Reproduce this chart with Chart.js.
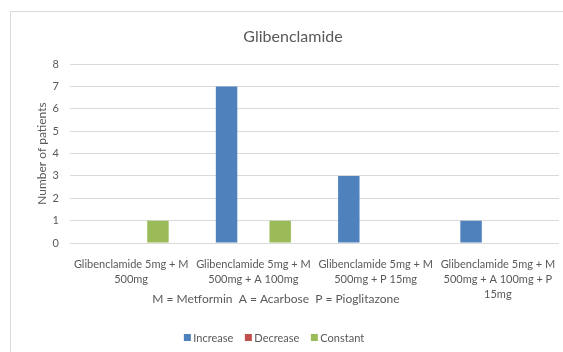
<!DOCTYPE html>
<html>
<head>
<meta charset="utf-8">
<script src="https://cdn.jsdelivr.net/npm/chart.js@4.4.1/dist/chart.umd.min.js"></script>
<style>
  html, body { margin: 0; padding: 0; width: 563px; height: 352px; overflow: hidden; background: #ffffff; }
  #frame { position: absolute; left: 10px; top: 11px; width: 600px; height: 400px;
           border-left: 1px solid #d9d9d9; border-top: 1px solid #d9d9d9; box-sizing: border-box; }
  #chart { position: absolute; left: 10px; top: 11px; }
</style>
</head>
<body>
<div id="frame"></div>
<canvas id="chart" width="566" height="341"></canvas>
<script>
// Treatment combinations (multi-line category labels)
const categories = [
  ["Glibenclamide 5mg + M", "500mg"],
  ["Glibenclamide 5mg + M", "500mg + A 100mg"],
  ["Glibenclamide 5mg + M", "500mg + P 15mg"],
  ["Glibenclamide 5mg + M", "500mg + A 100mg + P", "15mg"]
];

// Number of patients per outcome
const increaseValues = [0, 7, 3, 1];
const decreaseValues = [0, 0, 0, 0];
const constantValues = [1, 1, 0, 0];

const seriesNames = ["Increase", "Decrease", "Constant"];
const seriesColors = ["#4f81bd", "#c0504d", "#9bbb59"];

const chartTitle = "Glibenclamide";
const yAxisTitle = "Number of patients";
const xAxisTitle = "M = Metformin  A = Acarbose  P = Pioglitazone";
const yTicks = [0, 1, 2, 3, 4, 5, 6, 7, 8];

const TEXT = "#595959";
const FONT = "Lato, 'Open Sans', sans-serif";

// Axis title under the category labels and a square-swatch legend below it
const footerPlugin = {
  id: "footer",
  afterDraw(chart) {
    const ctx = chart.ctx;
    ctx.save();
    ctx.fillStyle = TEXT;
    ctx.textBaseline = "middle";
    ctx.font = "12px " + FONT;
    ctx.textAlign = "center";
    ctx.fillText(xAxisTitle, 266, 288.5);

    ctx.font = "11px " + FONT;
    ctx.textAlign = "left";
    const box = 7, gapText = 2.5, gapItem = 11.5;
    const items = chart.data.datasets.map(d => ({ label: d.label, color: d.backgroundColor,
      w: box + gapText + ctx.measureText(d.label).width }));
    const total = items.reduce((s, it) => s + it.w, 0) + gapItem * (items.length - 1);
    let x = 264 - total / 2;
    const y = 326.5;
    items.forEach(it => {
      ctx.fillStyle = it.color;
      ctx.fillRect(x, y - box / 2, box, box);
      ctx.fillStyle = TEXT;
      ctx.fillText(it.label, x + box + gapText, y + 0.5);
      x += it.w + gapItem;
    });
    ctx.restore();
  }
};

new Chart(document.getElementById("chart"), {
  type: "bar",
  data: {
    labels: categories,
    datasets: [
      { label: seriesNames[0], data: increaseValues, backgroundColor: seriesColors[0] },
      { label: seriesNames[1], data: decreaseValues, backgroundColor: seriesColors[1] },
      { label: seriesNames[2], data: constantValues, backgroundColor: seriesColors[2] }
    ]
  },
  options: {
    responsive: false,
    animation: false,
    layout: { padding: 0 },
    datasets: { bar: { categoryPercentage: 0.658, barPercentage: 0.8, borderWidth: 0 } },
    plugins: {
      legend: { display: false },
      tooltip: { enabled: false },
      title: {
        display: true,
        text: chartTitle,
        color: TEXT,
        font: { family: FONT, size: 16, weight: "normal" },
        padding: { top: 16, bottom: 18 }
      }
    },
    scales: {
      x: {
        grid: { display: false, drawTicks: false },
        border: { display: false },
        ticks: {
          color: TEXT,
          font: { family: FONT, size: 11, lineHeight: 15 / 11 },
          padding: 13.5,
          maxRotation: 0,
          minRotation: 0,
          autoSkip: false
        },
        afterFit(scale) { scale.height = 109; }
      },
      y: {
        min: 0,
        max: 8,
        afterBuildTicks(scale) { scale.ticks = yTicks.map(v => ({ value: v })); },
        grid: { color: "#d9d9d9", lineWidth: 1, drawTicks: false },
        border: { display: false },
        ticks: {
          color: TEXT,
          font: { family: FONT, size: 11 },
          padding: 11
        },
        title: {
          display: true,
          text: yAxisTitle,
          color: TEXT,
          font: { family: FONT, size: 12 },
          padding: { top: 25, bottom: 0 }
        },
        afterFit(scale) { scale.width = 60; }
      },
      // empty right-hand margin beside the plot
      yRight: {
        position: "right",
        min: 0,
        max: 8,
        grid: { display: false, drawTicks: false },
        border: { display: false },
        ticks: { display: false },
        afterFit(scale) { scale.width = 17; }
      }
    }
  },
  plugins: [footerPlugin]
});
</script>
</body>
</html>
